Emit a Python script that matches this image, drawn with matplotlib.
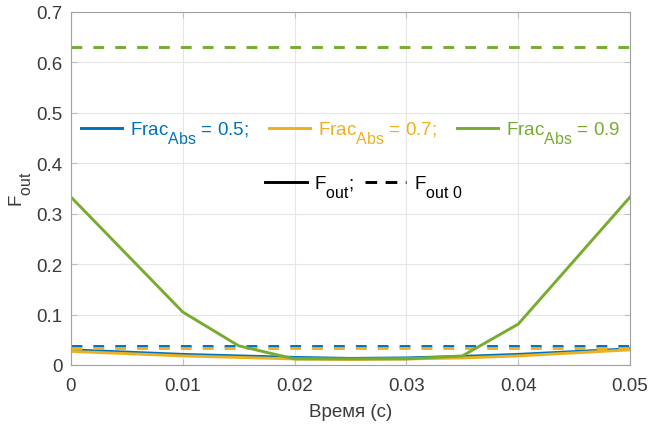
import matplotlib
matplotlib.use("Agg")
import matplotlib.pyplot as plt
from matplotlib.lines import Line2D
import matplotlib._mathtext as _mt

_mt.SHRINK_FACTOR = 0.85
_mt.FontConstantsBase.sub1 = 0.95
_mt.FontConstantsBase.sub2 = 0.95

plt.rcParams['font.family'] = ['Liberation Sans', 'DejaVu Sans']
plt.rcParams['mathtext.fontset'] = 'custom'
plt.rcParams['mathtext.rm'] = 'Liberation Sans'
plt.rcParams['mathtext.it'] = 'Liberation Sans'
plt.rcParams['mathtext.default'] = 'regular'

t = [0, 0.01, 0.015, 0.02, 0.025, 0.03, 0.035, 0.04, 0.05]
f_05 = [0.030, 0.021, 0.018, 0.015, 0.013, 0.014, 0.017, 0.021, 0.032]
f_07 = [0.027, 0.018, 0.015, 0.012, 0.011, 0.012, 0.014, 0.018, 0.030]
f_09 = [0.333, 0.105, 0.038, 0.012, 0.012, 0.012, 0.018, 0.081, 0.333]
f0_05 = 0.038
f0_07 = 0.034
f0_09 = 0.630

labels = ['Frac$_{Abs}$ = 0.5;', 'Frac$_{Abs}$ = 0.7;', 'Frac$_{Abs}$ = 0.9']
colors = ['#0072BD', '#EDB120', '#77AC30']

fig = plt.figure(figsize=(6.53, 4.27), dpi=100)
ax = fig.add_axes([0.1087, 0.1429, 0.8561, 0.8267])

series = [(f_05, f0_05), (f_07, f0_07), (f_09, f0_09)]
handles = []
for (f, f0), c in zip(series, colors):
    h, = ax.plot(t, f, color=c, lw=2.1)
    ax.axhline(f0, color=c, lw=2.1, ls=(0, (3.7, 3.8)))
    handles.append(h)

ax.set_xlim(0, 0.05)
ax.set_ylim(0, 0.7)
ax.set_xticks([0, 0.01, 0.02, 0.03, 0.04, 0.05])
ax.set_xticklabels(['0', '0.01', '0.02', '0.03', '0.04', '0.05'])
ax.set_yticks([0, 0.1, 0.2, 0.3, 0.4, 0.5, 0.6, 0.7])
ax.set_yticklabels(['0', '0.1', '0.2', '0.3', '0.4', '0.5', '0.6', '0.7'])
ax.grid(True, color='#e6e6e6', lw=0.8)
ax.set_axisbelow(True)
ax.tick_params(direction='in', length=4, color='#c0c0c0', labelsize=13.5,
               labelcolor='#3a3a3a', top=True, right=True)
ax.tick_params(axis='x', pad=9)
ax.tick_params(axis='y', pad=6)
for s in ax.spines.values():
    s.set_color('#a0a0a0')
    s.set_linewidth(0.8)
ax.set_xlabel('Время (с)', fontsize=13.5, color='#3a3a3a', labelpad=6)
ax.set_ylabel('F$_{out}$', fontsize=13.5, color='#3a3a3a', labelpad=2)

leg1 = ax.legend(handles, labels, ncol=3, loc='center', bbox_to_anchor=(0.5, 0.657),
                 frameon=False, fontsize=13.5, handlelength=2.2, columnspacing=1.1,
                 handletextpad=0.4)
for txt, c in zip(leg1.get_texts(), colors):
    txt.set_color(c)
ax.add_artist(leg1)

h2 = [Line2D([], [], color='black', lw=2.1),
      Line2D([], [], color='black', lw=2.1, ls=(0, (4.0, 2.9)))]
leg2 = ax.legend(h2, ['F$_{out}$;', 'F$_{out\\ 0}$'], ncol=2, loc='center',
                 bbox_to_anchor=(0.524, 0.505), frameon=False, fontsize=13.5,
                 handlelength=2.2, columnspacing=0.6, handletextpad=0.4)

fig.savefig('out.png', dpi=100)
